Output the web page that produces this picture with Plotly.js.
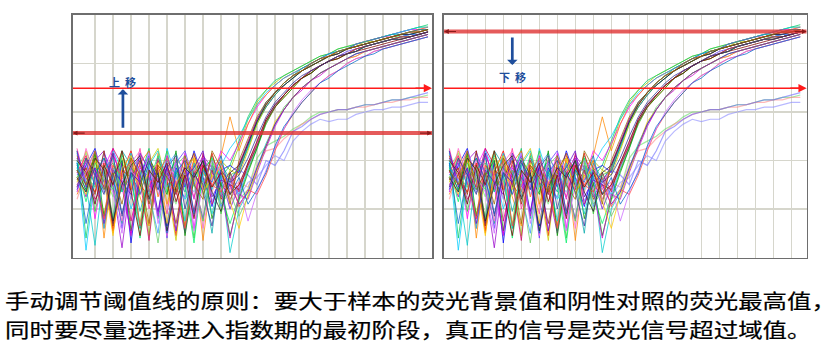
<!DOCTYPE html>
<html>
<head>
<meta charset="utf-8">
<script src="https://cdn.plot.ly/plotly-3.0.1.min.js"></script>
<style>
html,body{margin:0;padding:0;background:#fff;}
#chart{width:838px;height:354px;}
</style>
</head>
<body>
<div id="chart"></div>
<script>
// ---- data ----
const cycles = [0,1,2,3,4,5,6,7,8,9,10,11,12,13,14,15,16,17,18,19,20,21,22,23,24,25,26,27,28,29,30,31,32,33,34,35,36,37,38,39];
const gridCycles = [2,4,6,8,10,12,14,16,18,20,22,24,26,28,30,32,34,36,38];
const gridLevels = [20,40,60,80];

// amplified samples (fluorescence, 0-100 scale)
const s01 = [38,30,42,12,33,44,28,36,9,40,31,27,38,33,15,35,40,36,46,57,64,69,72,75,77,79,81,83,84,86,87,88,89,90,91,92,93,94,95,95];
const s02 = [44,8,35,41,30,14,37,33,45,16,34,40,11,36,30,42,33,38,48,58,65,69,73,75,77,79,81,83,84,86,87,88,89,90,91,92,93,94,95,96];
const s03 = [35,42,16,37,45,29,10,40,34,18,37,30,43,12,38,32,44,40,47,55,62,67,71,74,76,78,80,82,84,85,86,88,89,90,91,92,93,94,94,95];
const s04 = [30,36,44,8,38,33,41,25,13,43,22,36,31,40,7,36,42,58,44,55,63,67,71,74,76,78,80,82,83,85,86,87,88,89,90,91,92,93,94,95];
const s05 = [40,3,33,28,44,36,20,31,38,17,45,33,24,30,41,28,38,45,50,57,63,68,71,74,76,78,80,82,84,85,86,88,89,90,91,92,93,94,95,95];
const s06 = [42,33,27,39,11,35,44,30,25,38,33,9,40,35,28,43,30,26,37,47,57,63,68,72,75,77,79,81,83,84,86,87,88,89,90,91,92,93,94,94];
const s07 = [28,38,45,31,14,40,6,34,42,30,13,37,29,44,33,21,36,38,35,46,56,62,67,71,74,77,79,81,83,85,86,87,88,89,90,91,92,92,93,94];
const s08 = [36,25,40,44,29,4,33,38,27,41,35,28,10,34,42,37,25,31,38,48,57,64,68,72,75,77,79,81,83,84,86,87,88,89,90,91,92,93,93,94];
const s09 = [33,41,19,35,39,27,43,12,36,31,44,26,35,8,37,40,18,34,36,45,55,62,67,71,74,77,79,81,83,84,86,87,88,89,90,91,91,92,93,94];
const s10 = [45,30,36,16,42,34,29,45,20,33,18,41,36,25,39,30,35,28,39,47,56,63,68,72,75,77,80,82,83,85,86,88,89,90,91,91,92,93,93,94];
const s11 = [31,44,34,18,36,41,31,14,39,45,30,7,38,41,26,34,27,36,34,44,55,63,68,72,75,77,79,81,83,85,86,87,89,89,90,91,92,93,93,94];
const s12 = [39,27,37,33,16,44,38,19,33,28,40,34,27,38,31,10,39,32,37,46,56,64,68,72,75,78,80,82,84,85,86,88,89,90,91,92,92,93,94,94];
const s13 = [34,39,30,43,35,12,37,41,29,36,8,39,44,31,16,38,33,20,29,38,47,56,62,67,71,74,77,79,81,83,85,86,87,88,89,90,91,92,92,93];
const s14 = [26,34,41,37,10,33,28,39,44,25,36,31,13,42,35,29,40,24,30,36,46,55,62,66,70,74,76,79,81,82,84,85,87,88,89,90,90,91,92,93];
const s15 = [41,36,24,30,45,38,15,32,7,40,34,26,37,19,43,22,30,35,27,39,47,57,63,67,71,74,77,79,81,83,84,86,87,88,89,90,91,91,92,93];
const s16 = [37,23,39,34,28,42,35,8,31,42,27,35,30,6,36,41,26,14,25,36,45,55,62,67,71,74,76,79,81,83,84,85,87,88,89,90,91,91,92,93];
const s17 = [43,31,35,12,37,30,43,35,26,10,38,43,33,17,34,37,21,32,26,37,46,56,63,67,71,74,77,79,81,83,84,86,87,88,89,90,91,92,92,93];
const s18 = [29,45,33,40,31,15,39,44,35,30,9,32,41,36,12,33,38,29,31,38,47,56,62,67,71,74,77,79,81,83,84,86,87,88,89,90,91,91,92,93];
const s19 = [36,28,43,17,34,40,11,29,41,34,26,44,9,33,40,16,31,9,24,35,45,56,62,66,70,74,76,79,81,82,84,85,87,88,89,90,90,91,92,93];
const s20 = [32,37,26,44,13,36,33,40,22,37,31,14,35,43,29,36,24,30,28,38,46,56,62,67,71,74,77,79,81,83,84,86,87,88,89,90,91,91,92,93];
const s21 = [38,30,5,36,41,27,34,12,38,44,29,36,15,39,32,18,34,2,20,27,37,47,55,61,66,70,73,76,78,80,82,84,85,86,87,88,89,90,91,92];
const s22 = [27,40,36,29,43,32,9,37,33,17,42,30,37,24,41,35,28,8,26,24,35,45,54,61,66,69,73,75,78,80,82,83,85,86,87,88,89,90,91,92];
const s23 = [40,34,29,38,16,43,31,36,28,6,33,38,42,30,15,39,22,27,17,25,36,46,55,62,66,70,73,76,78,80,82,84,85,86,87,88,89,90,91,92];
const s24 = [33,26,40,32,9,37,42,28,35,39,14,31,36,41,27,33,37,23,12,26,36,46,56,61,66,70,73,76,78,80,82,83,85,86,87,88,89,90,91,92];
const s25 = [44,29,37,14,36,31,26,43,36,19,38,11,33,37,44,25,32,30,22,27,37,46,55,61,66,70,73,76,78,80,82,84,85,86,87,88,89,90,91,92];
const s26 = [35,42,31,16,38,34,40,13,30,35,41,28,12,35,38,30,27,33,21,28,26,34,44,53,59,64,68,72,75,77,80,82,83,85,86,87,88,89,90,91];
const s27 = [30,35,44,33,27,10,36,31,43,14,32,39,34,11,30,40,35,24,30,15,27,36,45,53,60,65,69,72,75,77,80,82,83,85,86,87,88,89,90,91];
const s28 = [39,14,34,41,32,18,35,26,39,33,10,35,40,18,36,31,42,26,33,22,28,35,46,54,59,64,68,72,74,77,79,81,83,84,86,87,88,89,90,91];
const s29 = [33,27,41,36,15,30,38,42,24,35,11,29,37,33,40,27,19,35,38,47,56,63,68,71,74,77,79,81,83,84,86,87,88,89,90,91,92,92,93,94];
const s30 = [40,35,22,38,30,44,27,9,36,31,39,23,34,16,38,29,35,26,30,39,48,57,63,67,71,74,76,79,81,82,84,85,86,87,88,89,90,91,92,93];
const s31 = [29,41,34,26,43,17,35,31,40,28,37,42,20,35,27,13,36,31,34,41,50,58,64,68,72,75,77,79,81,83,84,85,87,88,89,90,90,91,92,93];
const s32 = [36,30,44,28,35,22,41,34,14,38,33,27,42,30,24,44,37,22,40,49,58,64,68,72,75,77,80,82,83,85,86,87,88,89,90,91,92,93,93,94];

// low / negative samples
const n1 = [37,43,29,34,25,39,33,41,27,36,30,22,38,34,28,41,32,35,24,28,41,46,48,50,53,55,58,60,60,61,61,62,63,63,64,65,65,66,66,67];
const n2 = [24,35,40,31,37,29,42,26,33,38,21,35,30,39,33,27,36,20,31,29,38,44,45,49,52,55,57,59,60,61,61,62,62,63,64,64,65,65,66,66];
const n3 = [41,32,36,27,30,38,24,35,40,31,37,28,25,36,39,23,33,30,36,34,30,40,38,44,52,54,57,59,60,61,61,62,63,63,64,65,65,66,67,68];
const n4 = [32,38,22,40,35,28,37,30,44,26,34,39,31,27,35,38,29,33,25,31,33,38,42,40,48,52,55,57,56,57,57,59,60,61,61,62,62,63,64,64];

const ampSeries = [s01,s02,s03,s04,s05,s06,s07,s08,s09,s10,s11,s12,s13,s14,s15,s16,s17,s18,s19,s20,s21,s22,s23,s24,s25,s26,s27,s28,s29,s30,s31,s32];
const ampColors = ['#99cc00','#00cc66','#ff00ff','#ff8800','#00ccff','#ff0000','#0000ff','#9900cc','#33cc33','#ff3399',
                   '#cccc00','#00aaaa','#6633ff','#ff6600','#cc0066','#00ee66','#3399ff','#ff66cc','#009900','#993300',
                   '#00cccc','#cc00cc','#66cc66','#ffcc00','#6600cc','#ff4444','#cc66ff','#0066cc','#222222','#800000',
                   '#333399','#996600'];
const lowSeries = [n1,n2,n3,n4];
const lowColors = ['#66dd66','#ff8888','#6666ff','#8888ff'];

// thresholds per panel: [left, right]
const thickThreshold = [51.3, 93.2];
const thinThreshold = [69.8, 69.8];
// manual-move arrows per panel: x, tail y, head y, label y
const moveArrowX = [5.1, 7.0];
const moveArrowTail = [52.9, 91.3];
const moveArrowHead = [69.4, 79.4];
const moveLabelY = [72.4, 74.3];
const moveLabels = ['上&nbsp;&nbsp;移', '下&nbsp;&nbsp;移'];

const captionLines = [
  '手动调节阈值线的原则：要大于样本的荧光背景值和阴性对照的荧光最高值，',
  '同时要尽量选择进入指数期的最初阶段，真正的信号是荧光信号超过域值。'
];

// ---- build ----
const xRanges = [[-0.48, 39.44], [-0.59, 39.71]];
const traces = [];
[['x','y'],['x2','y2']].forEach(function(ax){
  lowSeries.forEach(function(s,i){
    traces.push({x: cycles, y: s, xaxis: ax[0], yaxis: ax[1], mode:'lines',
      line:{color: lowColors[i], width:1.2}, opacity:0.6, hoverinfo:'skip', showlegend:false});
  });
  ampSeries.forEach(function(s,i){
    traces.push({x: cycles, y: s, xaxis: ax[0], yaxis: ax[1], mode:'lines',
      line:{color: ampColors[i], width:1}, opacity:0.75, hoverinfo:'skip', showlegend:false});
  });
});

const gridCol = '#d6d6cc';
function xa(dom, rng){
  return {domain: dom, range: rng, tickmode:'array', tickvals: gridCycles, showgrid:true, gridcolor:gridCol, gridwidth:1.6,
    zeroline:false, showticklabels:false, ticks:'', showline:true, mirror:true, linecolor:'#6e6e6e', linewidth:1.6, fixedrange:true};
}
function ya(dom, anchor){
  return {domain: dom, range:[0,100], tickmode:'array', tickvals: gridLevels, showgrid:true, gridcolor:gridCol, gridwidth:1.6,
    zeroline:false, showticklabels:false, ticks:'', showline:true, mirror:true, linecolor:'#6e6e6e', linewidth:1.6, anchor: anchor, fixedrange:true};
}

const shapes = [];
const annotations = [];
[['x','y'],['x2','y2']].forEach(function(ax,p){
  const r = xRanges[p];
  shapes.push({type:'line', xref:ax[0], yref:ax[1], x0:r[0], x1:r[1], y0:thickThreshold[p], y1:thickThreshold[p],
    line:{color:'rgba(222,50,50,0.8)', width:4}, layer:'above'});
  shapes.push({type:'line', xref:ax[0], yref:ax[1], x0:r[0], x1:r[1]-0.6, y0:thinThreshold[p], y1:thinThreshold[p],
    line:{color:'#ff1a1a', width:1.5}, layer:'above'});
  annotations.push({xref:ax[0], yref:ax[1], axref:ax[0], ayref:ax[1], x:r[1], y:thinThreshold[p], ax:r[1]-2, ay:thinThreshold[p],
    text:'', showarrow:true, arrowhead:2, arrowsize:1.1, arrowwidth:1.5, arrowcolor:'#ff1a1a'});
  annotations.push({xref:ax[0], yref:ax[1], axref:ax[0], ayref:ax[1], x:r[1], y:thickThreshold[p], ax:r[1]-1.5, ay:thickThreshold[p],
    text:'', showarrow:true, arrowhead:2, arrowsize:0.8, arrowwidth:1.2, arrowcolor:'#8b1a1a'});
  annotations.push({xref:ax[0], yref:ax[1], axref:ax[0], ayref:ax[1], x:r[0], y:thickThreshold[p], ax:r[0]+1.5, ay:thickThreshold[p],
    text:'', showarrow:true, arrowhead:2, arrowsize:0.8, arrowwidth:1.2, arrowcolor:'#8b1a1a'});
  annotations.push({xref:ax[0], yref:ax[1], axref:ax[0], ayref:ax[1], x:moveArrowX[p], y:moveArrowHead[p], ax:moveArrowX[p], ay:moveArrowTail[p],
    text:'', showarrow:true, arrowhead:1, arrowsize:0.65, arrowwidth:2.7, arrowcolor:'#1f4e9c'});
  annotations.push({xref:ax[0], yref:ax[1], x:moveArrowX[p], y:moveLabelY[p], text:moveLabels[p], showarrow:false,
    font:{family:'Noto Sans CJK SC', size:11, color:'#1f4e9c', weight:700}, xanchor:'center', yanchor:'middle'});
});

// caption
const capY = [1 - 300.5/354, 1 - 329.5/354];
captionLines.forEach(function(t,i){
  annotations.push({xref:'paper', yref:'paper', x:3/838, y:capY[i], xanchor:'left', yanchor:'middle', text:t, showarrow:false,
    font:{family:'Noto Sans CJK SC', size:20, color:'#000000'}});
});

const yDom = [1-257.5/354, 1-15/354];
const layout = {
  width:838, height:354, margin:{l:0,r:0,t:0,b:0},
  paper_bgcolor:'#ffffff', plot_bgcolor:'#ffffff', showlegend:false,
  xaxis: xa([72.7/838, 432/838], xRanges[0]),
  yaxis: ya(yDom, 'x'),
  xaxis2: xa([444/838, 806.7/838], xRanges[1]),
  yaxis2: ya(yDom, 'x2'),
  shapes: shapes, annotations: annotations
};

Plotly.newPlot('chart', traces, layout, {staticPlot:true, displayModeBar:false}).then(function(gd){
  gd.querySelectorAll('.annotation-text-g text').forEach(function(el){
    const txt = el.textContent || '';
    if (txt.indexOf('手动') === 0 || txt.indexOf('同时') === 0) {
      el.style.transformBox = 'fill-box';
      el.style.transformOrigin = '0% 50%';
      el.style.transform = 'scaleX(1.222)';
      el.style.stroke = '#000';
      el.style.strokeWidth = '0.22px';
    }
  });
});
</script>
</body>
</html>
